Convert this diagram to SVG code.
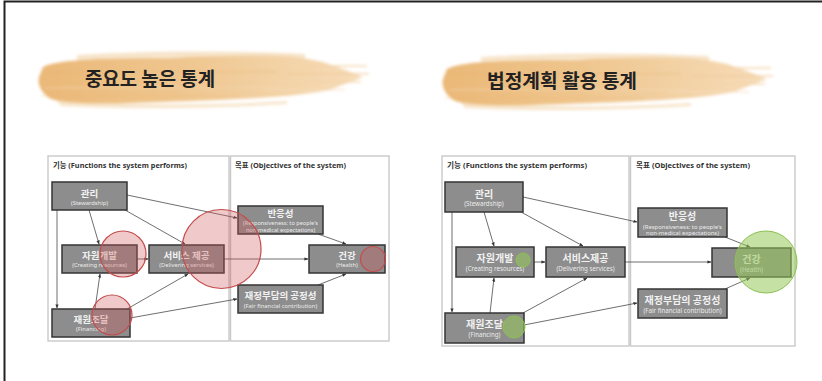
<svg xmlns="http://www.w3.org/2000/svg" width="822" height="381" viewBox="0 0 822 381">
  <style>
    .frame { fill: none; stroke: #222; stroke-width: 2; }
    .panel { fill: #fff; stroke: #c9c9c9; stroke-width: 1.4; }
    .ptitle { font-family: "Noto Sans", "Noto Sans CJK KR", sans-serif; font-weight: 700; fill: #333; }
    .box { fill: #8d8d8d; stroke: #353535; stroke-width: 1.5; }
    .ko { font-family: "Noto Sans CJK KR", "Noto Sans", sans-serif; font-weight: 700; fill: #f2f2f2; text-anchor: middle; }
    .en { font-family: "Noto Sans", "Noto Sans CJK KR", sans-serif; fill: #ececec; text-anchor: middle; }
    .edge { fill: none; stroke: #4a4a4a; stroke-width: 0.8; marker-end: url(#arr); }
    .hl-red { fill: #cf5a5a; fill-opacity: 0.32; stroke: #c44c4c; stroke-width: 1.2; }
    .hl-green { fill: #95c95a; fill-opacity: 0.55; stroke: #8cc152; stroke-width: 1; }
    .head { font-family: "Noto Sans CJK KR", "Noto Sans", sans-serif; font-weight: 700; fill: #222; }
  </style>
  <defs>
    <marker id="arr" viewBox="0 0 10 10" refX="9" refY="5" markerWidth="5" markerHeight="5" orient="auto">
      <path d="M0,1 L10,5 L0,9 Z" fill="#333"/>
    </marker>
    <linearGradient id="paint" x1="0" y1="0" x2="1" y2="0">
      <stop offset="0" stop-color="#eab877"/>
      <stop offset="0.45" stop-color="#efc68f"/>
      <stop offset="1" stop-color="#f6dcb9"/>
    </linearGradient>
    <filter id="soft" x="-5%" y="-20%" width="110%" height="140%">
      <feGaussianBlur stdDeviation="1.6"/>
    </filter>
    <!-- paint-brush swatch behind the headings -->
    <g id="brush">
      <g filter="url(#soft)">
        <path d="M6,18 C22,10 70,9 130,9 C190,6 236,4 266,9 L286,13 L306,20 L326,28 L308,35 L292,41 C254,49 184,51 126,53 C74,55 34,56 14,50 C5,45 0,36 2,28 Z" fill="url(#paint)"/>
        <path d="M40,6 C100,2 190,1 268,5 L268,9 C190,7 100,8 40,11 Z" fill="#f3d8b3" opacity="0.7"/>
        <path d="M20,52 C80,56 170,57 250,52 L250,55 C170,60 80,60 24,57 Z" fill="#f1d2a6" opacity="0.6"/>
        <rect x="240" y="16" width="90" height="2" fill="#f3d3a6" opacity="0.7"/>
        <rect x="250" y="24" width="82" height="1.6" fill="#f0c998" opacity="0.7"/>
        <rect x="236" y="32" width="88" height="1.8" fill="#f3d4aa" opacity="0.7"/>
        <rect x="228" y="40" width="80" height="1.6" fill="#f5dcbb" opacity="0.6"/>
        <rect x="10" y="22" width="230" height="1.5" fill="#e6b170" opacity="0.35"/>
        <rect x="8" y="38" width="240" height="1.5" fill="#f6dab6" opacity="0.5"/>
        <rect x="4" y="46" width="200" height="1.5" fill="#e8b775" opacity="0.3"/>
      </g>
    </g>
  </defs>

  <!-- page edges -->
  <path class="frame" d="M4.5,381 L4.5,1.5 L822,1.5"/>

  <!-- headings -->
  <g id="heading-left">
    <use href="#brush" x="37" y="49"/>
    <text class="head" x="85" y="86" font-size="19" textLength="130" lengthAdjust="spacingAndGlyphs">중요도 높은 통계</text>
  </g>
  <g id="heading-right">
    <use href="#brush" x="441" y="51"/>
    <text class="head" x="487" y="88" font-size="19" textLength="150" lengthAdjust="spacingAndGlyphs">법정계획 활용 통계</text>
  </g>

  <!-- ===== left framework ===== -->
  <g id="left-panels">
    <rect class="panel" x="48" y="156" width="181" height="185"/>
    <rect class="panel" x="230.5" y="156" width="158.5" height="185"/>
    <text class="ptitle" x="53" y="168" font-size="7.6" textLength="134" lengthAdjust="spacingAndGlyphs">기능 (Functions the system performs)</text>
    <text class="ptitle" x="235" y="168" font-size="7.6" textLength="111" lengthAdjust="spacingAndGlyphs">목표 (Objectives of the system)</text>
  </g>

  <g id="left-connectors">
    <path class="edge" d="M127,195 L237,218"/>
    <path class="edge" d="M125,210 L185,244"/>
    <path class="edge" d="M89,210 L99,244"/>
    <path class="edge" d="M57,210 L57,308"/>
    <path class="edge" d="M137,259 L148,259"/>
    <path class="edge" d="M95,309 L100,274"/>
    <path class="edge" d="M127,309 L188,274"/>
    <path class="edge" d="M130,318 L237,299"/>
    <path class="edge" d="M224,259 L308,259"/>
    <path class="edge" d="M318,234 L346,244"/>
    <path class="edge" d="M318,285 L346,274"/>
  </g>

  <g id="L-stewardship">
    <rect class="box" x="52" y="182" width="75" height="28"/>
    <text class="ko" x="89.5" y="197" font-size="9.5">관리</text>
    <text class="en" x="89.5" y="205" font-size="5.8">(Stewardship)</text>
  </g>
  <g id="L-resources">
    <rect class="box" x="62" y="245" width="75" height="28"/>
    <text class="ko" x="99.5" y="259" font-size="9.5">자원개발</text>
    <text class="en" x="99.5" y="267" font-size="5.8">(Creating resources)</text>
  </g>
  <g id="L-services">
    <rect class="box" x="149" y="245" width="75" height="28"/>
    <text class="ko" x="186.5" y="259" font-size="9.5">서비스 제공</text>
    <text class="en" x="186.5" y="267" font-size="5.8">(Delivering services)</text>
  </g>
  <g id="L-financing">
    <rect class="box" x="52" y="309" width="78" height="28"/>
    <text class="ko" x="91" y="323" font-size="9.5">재원조달</text>
    <text class="en" x="91" y="331" font-size="5.8">(Financing)</text>
  </g>
  <g id="L-responsiveness">
    <rect class="box" x="238" y="206" width="85" height="28"/>
    <text class="ko" x="280.5" y="217" font-size="9.5">반응성</text>
    <text class="en" x="280.5" y="225" font-size="5.6">(Responsiveness: to people's</text>
    <text class="en" x="280.5" y="231.5" font-size="5.6">non-medical expectations)</text>
  </g>
  <g id="L-health">
    <rect class="box" x="309" y="245" width="76" height="28"/>
    <text class="ko" x="347" y="259" font-size="9.5">건강</text>
    <text class="en" x="347" y="267" font-size="5.8">(Health)</text>
  </g>
  <g id="L-fairness">
    <rect class="box" x="238" y="285" width="85" height="28"/>
    <text class="ko" x="280.5" y="299" font-size="9.5">재정부담의 공정성</text>
    <text class="en" x="280.5" y="307.5" font-size="5.8">(Fair financial contribution)</text>
  </g>

  <g id="left-highlights">
    <circle class="hl-red" cx="123" cy="254" r="23"/>
    <circle class="hl-red" cx="221.5" cy="249" r="39.5"/>
    <circle class="hl-red" cx="112" cy="315" r="20"/>
    <circle class="hl-red" cx="373" cy="259" r="12.5"/>
  </g>

  <!-- ===== right framework ===== -->
  <g id="right-panels">
    <rect class="panel" x="442" y="156" width="187" height="190"/>
    <rect class="panel" x="630.5" y="156" width="164.5" height="190"/>
    <text class="ptitle" x="447" y="168" font-size="7.8" textLength="140" lengthAdjust="spacingAndGlyphs">기능 (Functions the system performs)</text>
    <text class="ptitle" x="636" y="168" font-size="7.8" textLength="114" lengthAdjust="spacingAndGlyphs">목표 (Objectives of the system)</text>
  </g>

  <g id="right-connectors">
    <path class="edge" d="M523,197 L637,222"/>
    <path class="edge" d="M521,212 L583,246"/>
    <path class="edge" d="M484,212 L494,246"/>
    <path class="edge" d="M452,212 L452,312"/>
    <path class="edge" d="M534,262 L545,262"/>
    <path class="edge" d="M490,313 L494,278"/>
    <path class="edge" d="M523,313 L587,278"/>
    <path class="edge" d="M524,325 L637,303"/>
    <path class="edge" d="M625,262 L711,262"/>
    <path class="edge" d="M725,237 L750,247"/>
    <path class="edge" d="M725,289 L750,278"/>
  </g>

  <g id="R-stewardship">
    <rect class="box" x="445" y="182" width="78" height="30"/>
    <text class="ko" x="484" y="197.5" font-size="10">관리</text>
    <text class="en" x="484" y="206" font-size="6.2">(Stewardship)</text>
  </g>
  <g id="R-resources">
    <rect class="box" x="456" y="247" width="78" height="30"/>
    <text class="ko" x="495" y="262" font-size="10">자원개발</text>
    <text class="en" x="495" y="271" font-size="6.2">(Creating resources)</text>
  </g>
  <g id="R-services">
    <rect class="box" x="546" y="247" width="79" height="30"/>
    <text class="ko" x="585.5" y="262" font-size="10">서비스제공</text>
    <text class="en" x="585.5" y="271" font-size="6.2">(Delivering services)</text>
  </g>
  <g id="R-financing">
    <rect class="box" x="445" y="313" width="79" height="30"/>
    <text class="ko" x="484.5" y="328" font-size="10">재원조달</text>
    <text class="en" x="484.5" y="337" font-size="6.2">(Financing)</text>
  </g>
  <g id="R-responsiveness">
    <rect class="box" x="638" y="208" width="89" height="29"/>
    <text class="ko" x="682.5" y="220" font-size="10">반응성</text>
    <text class="en" x="682.5" y="228.5" font-size="5.9">(Responsiveness: to people's</text>
    <text class="en" x="682.5" y="235" font-size="5.9">non-medical expectations)</text>
  </g>
  <g id="R-health">
    <rect class="box" x="712" y="248" width="79" height="29"/>
    <text class="ko" x="751.5" y="263" font-size="10">건강</text>
    <text class="en" x="751.5" y="271.5" font-size="6.2">(Health)</text>
  </g>
  <g id="R-fairness">
    <rect class="box" x="638" y="289" width="89" height="29"/>
    <text class="ko" x="682.5" y="303.5" font-size="10">재정부담의 공정성</text>
    <text class="en" x="682.5" y="312.5" font-size="6.2">(Fair financial contribution)</text>
  </g>

  <g id="right-highlights">
    <circle class="hl-green" cx="523" cy="260" r="7"/>
    <circle class="hl-green" cx="514" cy="327" r="11"/>
    <circle class="hl-green" cx="766" cy="262" r="31"/>
  </g>
</svg>
